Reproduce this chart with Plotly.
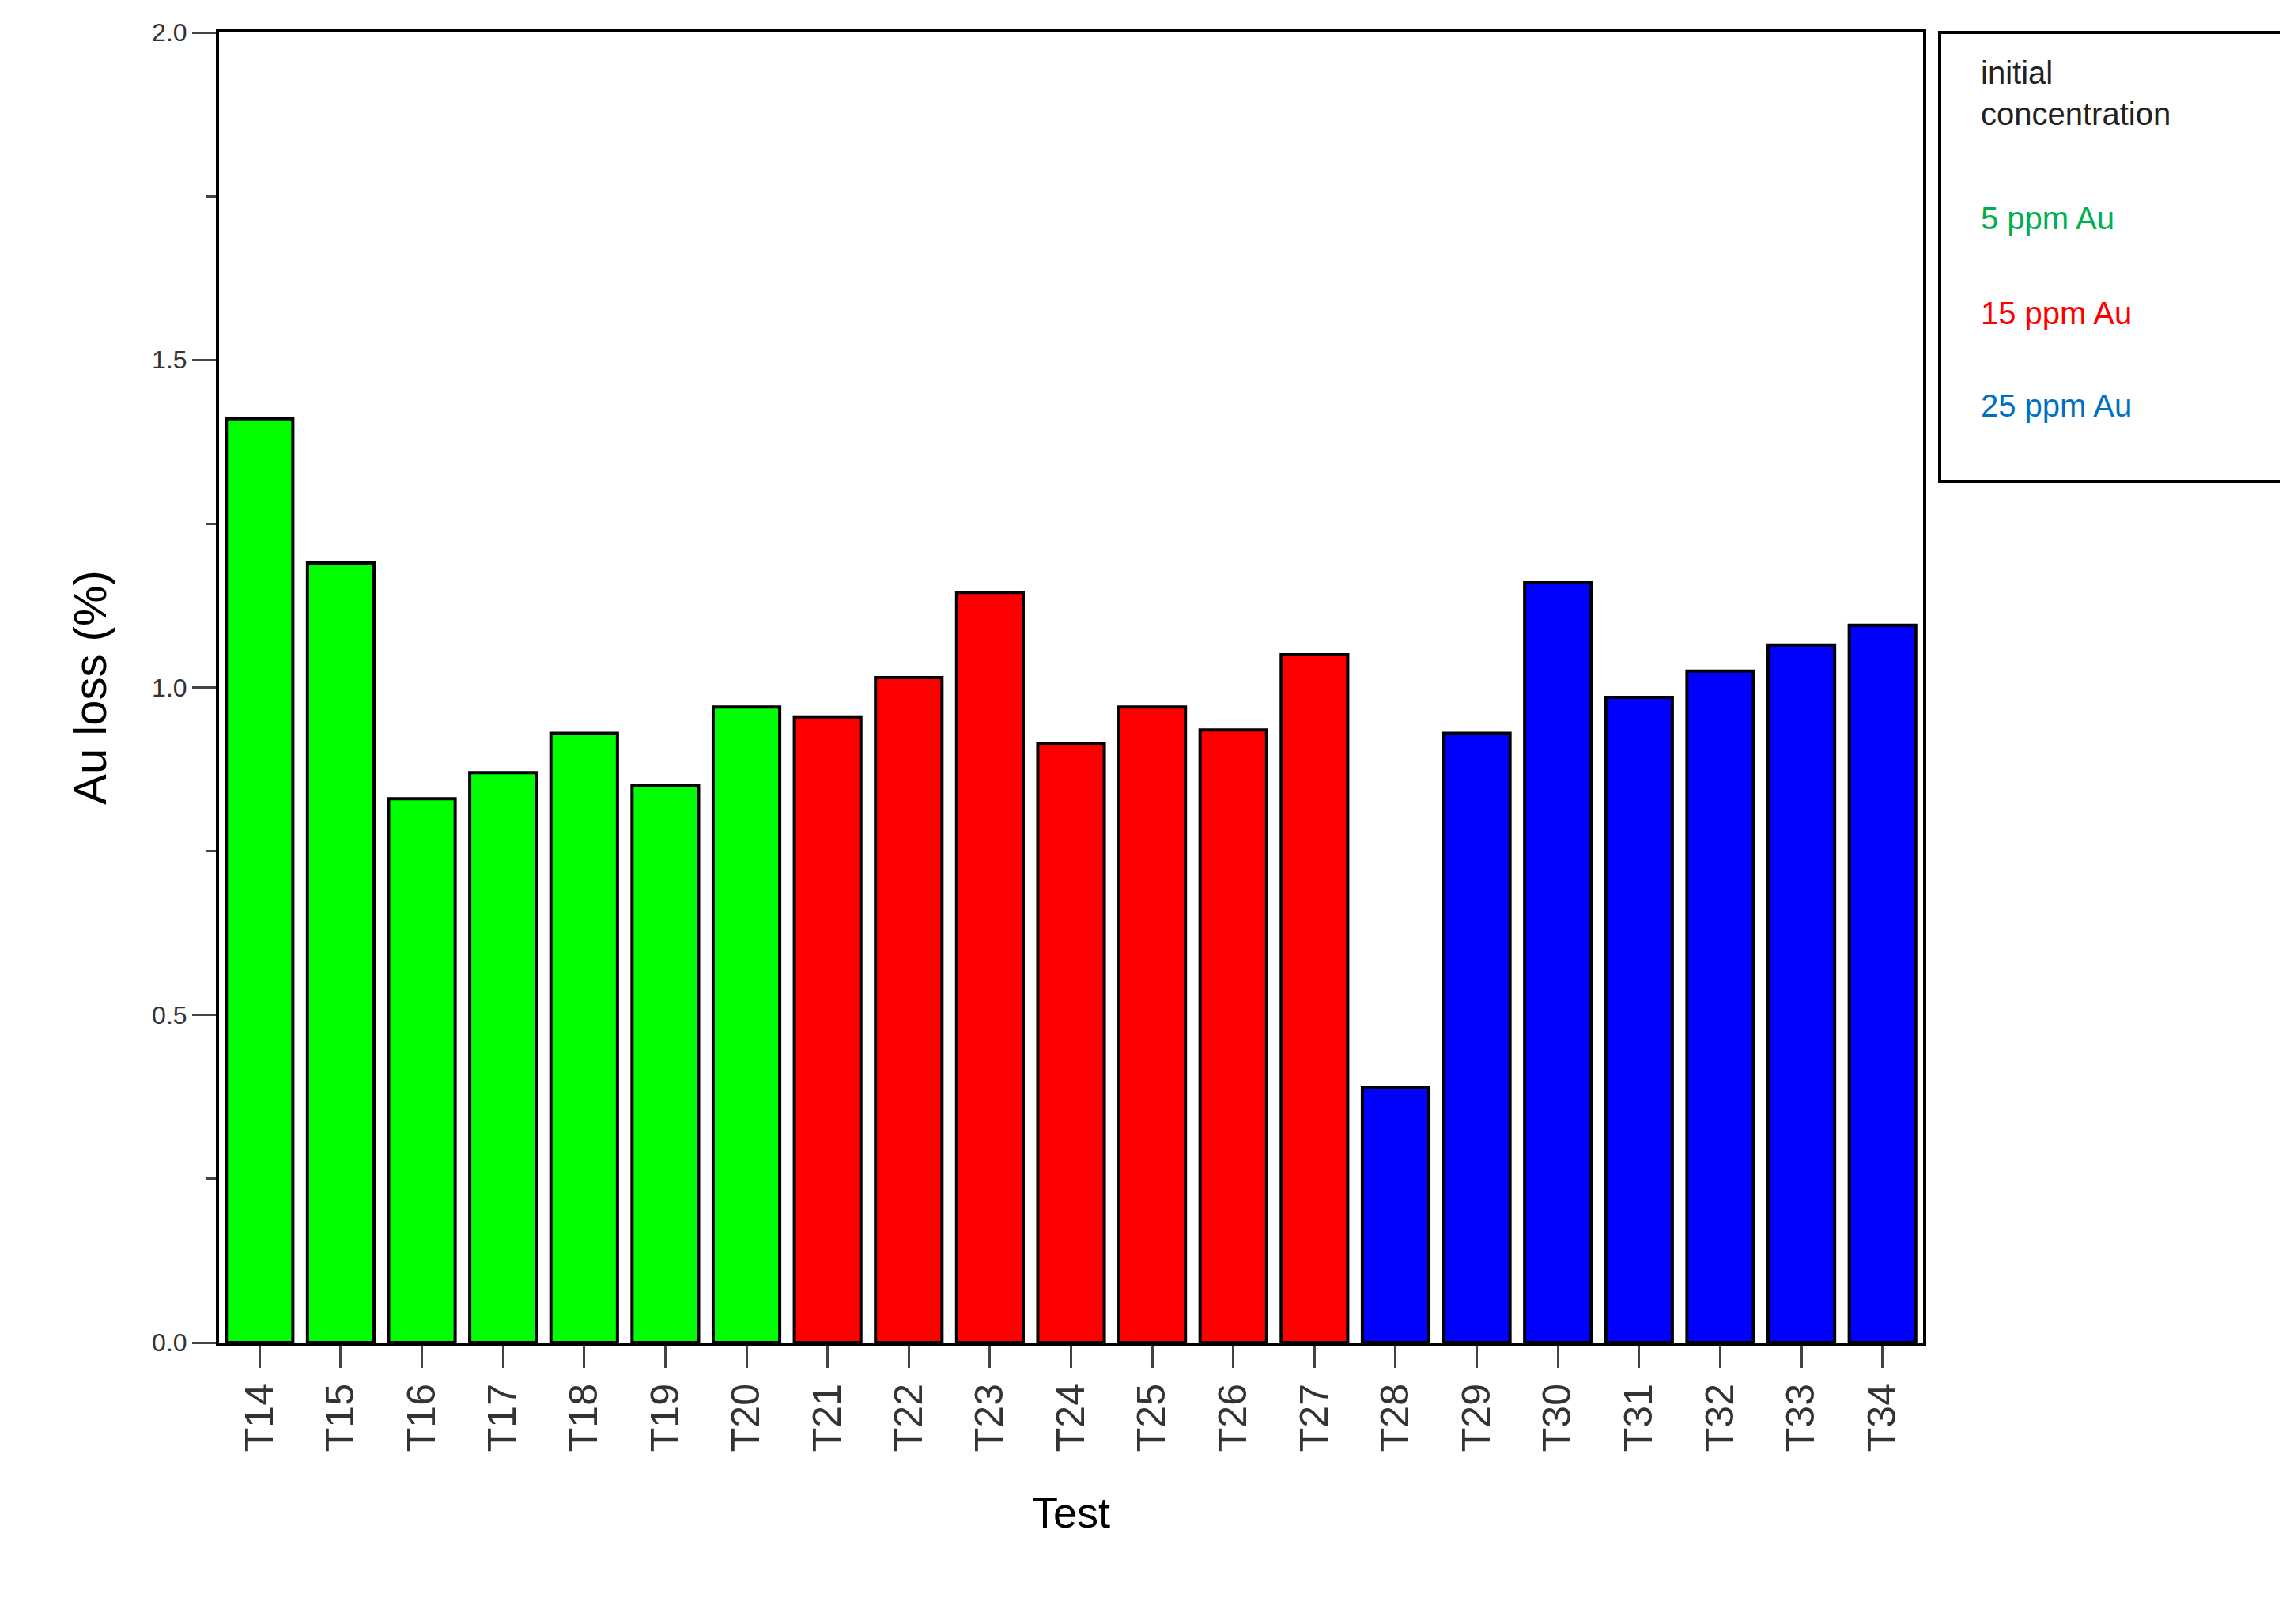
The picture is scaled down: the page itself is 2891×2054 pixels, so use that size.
import plotly.graph_objects as go

tests = ["T%d" % i for i in range(14, 35)]
loss = [1.41, 1.19, 0.83, 0.87, 0.93, 0.85, 0.97, 0.955, 1.015, 1.145, 0.915,
        0.97, 0.935, 1.05, 0.39, 0.93, 1.16, 0.985, 1.025, 1.065, 1.095]
groups = ["5"] * 7 + ["15"] * 7 + ["25"] * 7
color_map = {"5": "#00ff00", "15": "#ff0000", "25": "#0000ff"}
legend_title = "initial<br>concentration"
legend_items = [("5 ppm Au", "#00b050"), ("15 ppm Au", "#ff0000"), ("25 ppm Au", "#0070c0")]

W, H = 2891, 2054
L, R, T, B = 269, 2424, 33, 1690

fig = go.Figure(go.Bar(
    x=tests, y=loss, marker=dict(color=[color_map[g] for g in groups],
                                 line=dict(color="black", width=4)),
    width=0.82, showlegend=False))

fig.update_layout(
    width=W, height=H, plot_bgcolor="white", paper_bgcolor="white",
    margin=dict(l=L, r=W - R, t=T, b=H - B, autoexpand=False),
    font=dict(family="Liberation Sans, Arial", color="black"),
)
fig.update_yaxes(range=[0, 2.0], tickvals=[0, 0.5, 1.0, 1.5, 2.0], ticktext=["0.0", "0.5", "1.0", "1.5", "2.0"],
                 ticks="outside", ticklen=30, tickwidth=3, showgrid=False, zeroline=False,
                 showline=True, linewidth=4, linecolor="black", mirror=True,
                 tickfont=dict(size=32, color="#333"),
                 minor=dict(dtick=0.25, ticks="outside", ticklen=12, tickwidth=3),
                 title=dict(text="Au loss (%)", font=dict(size=58), standoff=40))
fig.update_xaxes(range=[-0.5, 20.5], ticks="outside", ticklen=28, tickwidth=3, showgrid=False,
                 showline=True, linewidth=4, linecolor="black", mirror=True,
                 tickangle=-90, tickfont=dict(size=50, color="#333"),
                 title=dict(text="Test", font=dict(size=54), standoff=60))

# legend box
fig.add_shape(type="rect", xref="paper", yref="paper",
              x0=(2445 - L) / (R - L), x1=(2880 - L) / (R - L),
              y0=(B - 601) / (B - T), y1=1.0, line=dict(color="black", width=4))
lx = (2495 - L) / (R - L)
def py(y):
    return (B - y) / (B - T)
fig.add_annotation(xref="paper", yref="paper", x=lx, y=py(60), xanchor="left", yanchor="top",
                   text=legend_title, showarrow=False, align="left",
                   font=dict(size=40, color="#222"))
for (txt, col), yy in zip(legend_items, [268, 388, 505]):
    fig.add_annotation(xref="paper", yref="paper", x=lx, y=py(yy), xanchor="left", yanchor="middle",
                       text=txt, showarrow=False, font=dict(size=40, color=col))

fig.write_html("out.html")
